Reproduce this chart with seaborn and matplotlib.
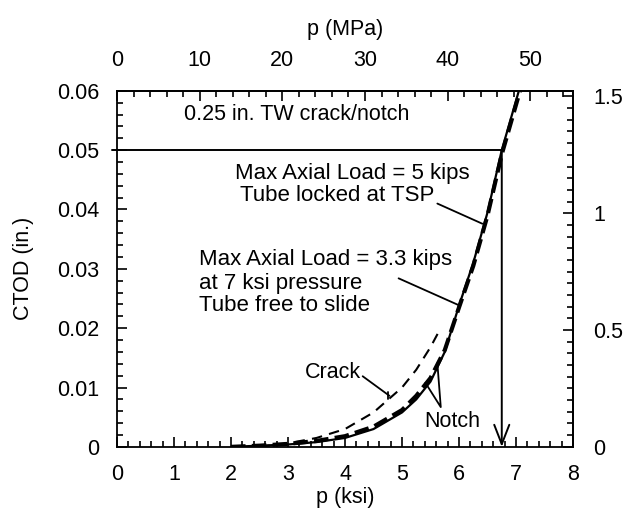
import numpy as np
import matplotlib
matplotlib.use("Agg")
import matplotlib.pyplot as plt
from matplotlib.ticker import MultipleLocator, FixedLocator, FixedFormatter
import seaborn as sns

# ---- data ----
p_locked = [2.0, 2.5, 3.0, 3.5, 4.0, 4.5, 5.0, 5.25, 5.5, 5.75, 6.0, 6.25, 6.5, 6.75, 7.05]
ctod_locked = [0.0, 0.0002, 0.0004, 0.0008, 0.0015, 0.0030, 0.0058, 0.0080, 0.0110, 0.0160,
               0.0238, 0.0310, 0.0395, 0.0500, 0.0600]

p_free = [2.0, 2.5, 3.0, 3.5, 4.0, 4.5, 5.0, 5.25, 5.5, 5.75, 6.0, 6.25, 6.5, 6.75, 7.07]
ctod_free = [0.0, 0.0002, 0.0005, 0.0010, 0.0018, 0.0034, 0.0062, 0.0086, 0.0116, 0.0163,
             0.0235, 0.0305, 0.0390, 0.0493, 0.0600]

p_crack = [2.5, 3.0, 3.5, 4.0, 4.5, 5.0, 5.25, 5.5, 5.65]
ctod_crack = [0.0, 0.0006, 0.0015, 0.0030, 0.0058, 0.0100, 0.0130, 0.0168, 0.0195]

limit_ctod = 0.05
limit_p = 6.75

x_ticks = [0, 1, 2, 3, 4, 5, 6, 7, 8]
y_ticks = [0, 0.01, 0.02, 0.03, 0.04, 0.05, 0.06]
y_ticklabels = ["0", "0.01", "0.02", "0.03", "0.04", "0.05", "0.06"]
mpa_ticks = [0, 10, 20, 30, 40, 50]
mm_ticks = [0, 0.5, 1, 1.5]
mm_ticklabels = ["0", "0.5", "1", "1.5"]

KSI_TO_MPA = 6.895
IN_TO_MM = 25.4

# ---- style ----
sns.set_theme(style="ticks")
plt.rcParams["font.family"] = ["Liberation Sans", "DejaVu Sans"]
FS = 15.5
FS2 = 16
plt.rcParams.update({
    "font.size": FS,
    "text.color": "black",
    "axes.labelcolor": "black",
    "xtick.labelcolor": "black", "ytick.labelcolor": "black",
    "axes.linewidth": 1.3,
    "xtick.direction": "in", "ytick.direction": "in",
    "xtick.major.size": 7, "ytick.major.size": 7,
    "xtick.minor.size": 4, "ytick.minor.size": 4,
    "xtick.major.width": 1.2, "ytick.major.width": 1.2,
    "xtick.minor.width": 1.2, "ytick.minor.width": 1.2,
    "xtick.color": "black", "ytick.color": "black",
    "axes.edgecolor": "black",
})

fig = plt.figure(figsize=(6.29, 5.16), dpi=100)
ax = fig.add_axes([0.186, 0.134, 0.725, 0.690])

sns.lineplot(x=p_locked, y=ctod_locked, ax=ax, color="black", linewidth=1.6, sort=True)
sns.lineplot(x=p_free, y=ctod_free, ax=ax, color="black", linewidth=3.0,
             linestyle=(0, (3.5, 1.5)), sort=True)
sns.lineplot(x=p_crack, y=ctod_crack, ax=ax, color="black", linewidth=1.5,
             linestyle=(0, (5, 3.5)), sort=True)

# limit line and arrow
ax.plot([-0.09, limit_p], [limit_ctod, limit_ctod], color="black", lw=1.4, clip_on=False)
ax.annotate("", xy=(limit_p, 0.0), xytext=(limit_p, limit_ctod),
            arrowprops=dict(arrowstyle="->,head_length=0.9,head_width=0.35",
                            color="black", lw=1.4, shrinkA=0, shrinkB=0))

ax.set_xlim(0, 8)
ax.set_ylim(0, 0.06)
ax.xaxis.set_major_locator(FixedLocator(x_ticks))
ax.xaxis.set_minor_locator(MultipleLocator(0.2))
ax.yaxis.set_major_locator(FixedLocator(y_ticks))
ax.yaxis.set_major_formatter(FixedFormatter(y_ticklabels))
ax.yaxis.set_minor_locator(MultipleLocator(0.002))
ax.tick_params(axis="x", which="both", top=False, bottom=True, pad=12, labelsize=FS)
ax.tick_params(axis="y", which="both", right=False, left=True, pad=12.5, labelsize=FS)
ax.set_xlabel("p (ksi)", fontsize=FS, labelpad=2)
ax.set_ylabel("CTOD (in.)", fontsize=FS, labelpad=17)
for s in ax.spines.values():
    s.set_color("black")
    s.set_linewidth(1.3)

secx = ax.secondary_xaxis("top", functions=(lambda x: x * KSI_TO_MPA, lambda x: x / KSI_TO_MPA))
secx.xaxis.set_major_locator(FixedLocator(mpa_ticks))
secx.xaxis.set_minor_locator(MultipleLocator(2))
secx.tick_params(axis="x", which="both", direction="in", pad=14, labelsize=FS)
secx.set_xlabel("p (MPa)", fontsize=FS, labelpad=11)

secy = ax.secondary_yaxis("right", functions=(lambda y: y * IN_TO_MM, lambda y: y / IN_TO_MM))
secy.yaxis.set_major_locator(FixedLocator(mm_ticks))
secy.yaxis.set_major_formatter(FixedFormatter(mm_ticklabels))
secy.yaxis.set_minor_locator(MultipleLocator(0.05))
secy.tick_params(axis="y", which="both", direction="in", pad=14.5, labelsize=FS)

# annotations
ax.text(3.16, 0.0560, "0.25 in. TW crack/notch", ha="center", va="center", fontsize=FS)
ax.text(2.07, 0.0461, "Max Axial Load = 5 kips", ha="left", va="center", fontsize=FS2)
ax.text(2.16, 0.0424, "Tube locked at TSP", ha="left", va="center", fontsize=FS2)
ax.plot([5.62, 6.41], [0.0410, 0.0376], color="black", lw=1.3)

ax.text(1.43, 0.0316, "Max Axial Load = 3.3 kips", ha="left", va="center", fontsize=FS2)
ax.text(1.43, 0.0276, "at 7 ksi pressure", ha="left", va="center", fontsize=FS2)
ax.text(1.43, 0.0239, "Tube free to slide", ha="left", va="center", fontsize=FS2)
ax.plot([4.94, 5.99], [0.0284, 0.0239], color="black", lw=1.3)

ax.text(3.78, 0.0126, "Crack", ha="center", va="center", fontsize=FS)
ax.plot([4.31, 4.78], [0.0119, 0.0086], color="black", lw=1.3)
ax.plot([4.76, 4.76], [0.0092, 0.0080], color="black", lw=1.3)

ax.text(5.89, 0.0042, "Notch", ha="center", va="center", fontsize=FS)
ax.plot([5.62, 5.68, 5.41], [0.0141, 0.0067, 0.0108], color="black", lw=1.3)

fig.savefig("out.png", dpi=100)
